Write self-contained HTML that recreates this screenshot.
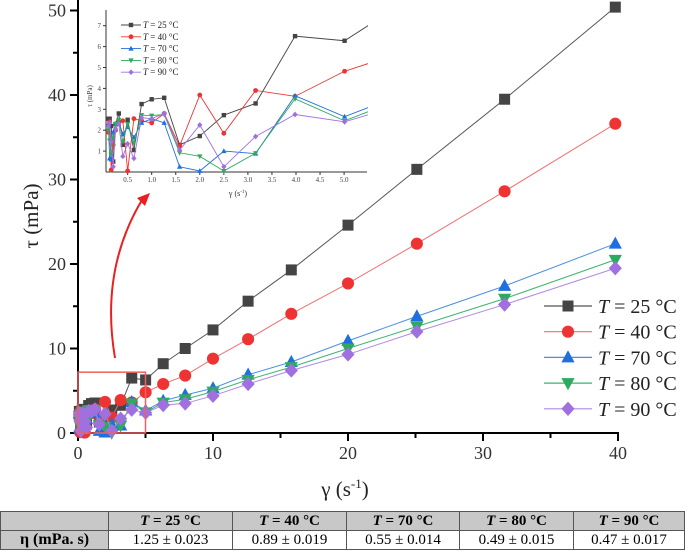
<!DOCTYPE html>
<html><head><meta charset="utf-8"><style>
body{margin:0;background:#fff;width:685px;height:551px;overflow:hidden;font-family:"Liberation Serif",serif}
svg{position:absolute;left:0;top:0;font-family:"Liberation Serif",serif}
svg text{font-family:"Liberation Serif",serif}
table{position:absolute;left:0;top:511px;width:685px;border-collapse:collapse;font-family:"Liberation Serif",serif;font-size:15px}
td{border:1px solid #555;height:18px;padding:0;text-align:center}
.g{background:#c8c8c8;font-weight:bold}
</style></head><body>
<svg id="c" width="685" height="511" font-family="Liberation Serif, serif"></svg>
<table>
<tr><td class="g" style="width:107px"></td><td class="g" style="width:123px"><i>T</i> = 25 °C</td><td class="g" style="width:113px"><i>T</i> = 40 °C</td><td class="g" style="width:112px"><i>T</i> = 70 °C</td><td class="g" style="width:113px"><i>T</i> = 80 °C</td><td class="g"><i>T</i> = 90 °C</td></tr>
<tr><td class="g" style="font-size:16px">η (mPa. s)</td><td>1.25 ± 0.023</td><td>0.89 ± 0.019</td><td>0.55 ± 0.014</td><td>0.49 ± 0.015</td><td>0.47 ± 0.017</td></tr>
</table>
<script>
const shearRates=[0.1,0.126,0.158,0.2,0.25,0.316,0.4,0.5,0.63,0.79,1,1.26,1.58,2,2.5,3.16,3.98,5.01,6.31,7.94,10,12.6,15.8,20,25.1,31.6,39.8];
const tau25=[2.55,2.55,2.2,0.5,2.3,2.8,1.3,2.5,1.05,3.25,3.48,3.55,1.3,1.72,2.72,3.28,6.5,6.28,8.2,10,12.2,15.6,19.3,24.6,31.2,39.5,50.4];
const tau40=[1.9,2.4,0.1,1.3,2.0,2.4,2.45,0.05,2.55,2.45,2.35,2.8,1.25,3.68,1.85,3.9,3.62,4.82,5.8,6.8,8.8,11.1,14.1,17.7,22.4,28.6,36.6];
const tau70=[2.3,0.65,0.6,1.9,2.3,2.4,1.8,2.15,1.65,2.35,2.55,2.35,0.25,0.05,1.0,0.88,3.65,2.65,3.8,4.5,5.3,6.9,8.4,10.9,13.8,17.4,22.4];
const tau80=[2.0,1.5,0.85,1.6,2.3,2.5,1.45,2.3,1.4,2.72,2.7,2.75,0.92,0.75,0.05,0.9,3.5,2.45,3.6,4.0,4.9,6.3,7.8,10.0,12.6,15.9,20.5];
const tau90=[2.2,2.35,1.45,0.25,2.05,2.3,0.75,1.35,0.65,2.6,2.55,2.8,1.05,2.25,0.25,1.7,2.75,2.4,3.3,3.5,4.4,5.8,7.4,9.3,12.0,15.2,19.5];
const seriesLabels=["25","40","70","80","90"];
const xTicks=[0,10,20,30,40];
const yTicks=[0,10,20,30,40,50];
const insetXTicks=[0.5,1.0,1.5,2.0,2.5,3.0,3.5,4.0,4.5,5.0];
const insetYTicks=[1,2,3,4,5,6,7];

const S=document.getElementById('c');const NS='http://www.w3.org/2000/svg';
function el(t,a,p){const e=document.createElementNS(NS,t);for(const k in a)e.setAttribute(k,a[k]);if(t==='text')e.setAttribute('font-family','Liberation Serif, serif');(p||S).appendChild(e);return e;}
const X=v=>78+v*13.5, Y=v=>433-v*8.45;
const IX=v=>106+(v-0.05)*48.1, IY=v=>172-v*20.9;
const series=[tau25,tau40,tau70,tau80,tau90];
const lineC=['#555','#f07070','#4a90e2','#3cb371','#b08ae0'];
const markC=['#444','#ee3333','#1f6fe0','#2eaa60','#a070e0'];
function marker(g,type,x,y,s,c){
 if(type===0)return el('rect',{x:x-s,y:y-s,width:2*s,height:2*s,fill:c},g);
 if(type===1)return el('circle',{cx:x,cy:y,r:s*1.1,fill:c},g);
 if(type===2)return el('polygon',{points:`${x},${y-s*1.3} ${x+s*1.2},${y+s*0.9} ${x-s*1.2},${y+s*0.9}`,fill:c},g);
 if(type===3)return el('polygon',{points:`${x},${y+s*1.3} ${x+s*1.2},${y-s*0.9} ${x-s*1.2},${y-s*0.9}`,fill:c},g);
 return el('polygon',{points:`${x},${y-s*1.3} ${x+s*1.2},${y} ${x},${y+s*1.3} ${x-s*1.2},${y}`,fill:c},g);
}
el('line',{x1:78,y1:0,x2:78,y2:433,stroke:'#000','stroke-width':2});
el('line',{x1:78,y1:433,x2:619,y2:433,stroke:'#000','stroke-width':2});
yTicks.forEach(v=>{el('line',{x1:70,y1:Y(v),x2:78,y2:Y(v),stroke:'#000','stroke-width':2});
 const t=el('text',{x:66,y:Y(v)+6,'text-anchor':'end','font-size':18,fill:'#333'});t.textContent=v;
 if(v<50)el('line',{x1:73,y1:Y(v+5),x2:78,y2:Y(v+5),stroke:'#000','stroke-width':2});});
xTicks.forEach(v=>{el('line',{x1:X(v),y1:433,x2:X(v),y2:441,stroke:'#000','stroke-width':2});
 const t=el('text',{x:X(v),y:459,'text-anchor':'middle','font-size':18,fill:'#333'});t.textContent=v;
 if(v<40)el('line',{x1:X(v+5),y1:433,x2:X(v+5),y2:438,stroke:'#000','stroke-width':2});});
let t=el('text',{x:0,y:0,transform:'translate(38,216) rotate(-90)','text-anchor':'middle','font-size':21,fill:'#222'});t.textContent='τ (mPa)';
t=el('text',{x:345,y:496,'text-anchor':'middle','font-size':21,fill:'#222'});t.innerHTML='γ (s<tspan font-size="13" dy="-8">-1</tspan><tspan dy="8">)</tspan>';
series.forEach((d,i)=>{const g=el('g',{});
 el('polyline',{points:d.map((v,j)=>X(shearRates[j])+','+Y(v)).join(' '),fill:'none',stroke:lineC[i],'stroke-width':1},g);
 d.forEach((v,j)=>marker(g,i,X(shearRates[j]),Y(v),5.5,markC[i]));});
el('rect',{x:X(0),y:Y(7.2),width:X(5)-X(0),height:Y(0)-Y(7.2),fill:'none',stroke:'#f06060','stroke-width':1.5});
el('path',{d:'M115,358 Q100,270 142,200',fill:'none',stroke:'#e82020','stroke-width':2});
el('polygon',{points:'150,193 137,198 145,206',fill:'#e82020'});
series.forEach((d,i)=>{const y=306+i*25.7;const g=el('g',{});
 el('line',{x1:544,y1:y,x2:592,y2:y,stroke:lineC[i],'stroke-width':1.2},g);marker(g,i,568,y,5.5,markC[i]);
 const tt=el('text',{x:598,y:y+7,'font-size':20,fill:'#222'},g);tt.innerHTML='<tspan font-style="italic">T</tspan> = '+seriesLabels[i]+' °C';});
const ig=el('g',{});
el('rect',{x:106,y:8,width:262,height:164,fill:'#fff'},ig);
el('line',{x1:106,y1:10,x2:106,y2:172,stroke:'#333','stroke-width':1},ig);
el('line',{x1:106,y1:172,x2:367,y2:172,stroke:'#333','stroke-width':1},ig);
insetYTicks.forEach(v=>{el('line',{x1:103,y1:IY(v),x2:106,y2:IY(v),stroke:'#333'},ig);const q=el('text',{x:101,y:IY(v)+2.5,'text-anchor':'end','font-size':7,fill:'#444'},ig);q.textContent=v;});
insetXTicks.forEach(v=>{el('line',{x1:IX(v),y1:172,x2:IX(v),y2:175,stroke:'#333'},ig);const q=el('text',{x:IX(v),y:182,'text-anchor':'middle','font-size':7,fill:'#444'},ig);q.textContent=v.toFixed(1);});
t=el('text',{x:0,y:0,transform:'translate(92,96) rotate(-90)','text-anchor':'middle','font-size':7,fill:'#333'},ig);t.textContent='τ (mPa)';
t=el('text',{x:238,y:196,'text-anchor':'middle','font-size':8,fill:'#333'},ig);t.innerHTML='γ (s<tspan font-size="5" dy="-3">-1</tspan><tspan dy="3">)</tspan>';
const cp=el('clipPath',{id:'ic'});el('rect',{x:106,y:8,width:262,height:166},cp);
const ic=el('g',{'clip-path':'url(#ic)'},ig);
series.forEach((d,i)=>{const g=el('g',{},ic);
 const n=19;el('polyline',{points:d.slice(0,n).map((v,j)=>IX(shearRates[j])+','+IY(v)).join(' '),fill:'none',stroke:markC[i],'stroke-width':0.9},g);
 d.slice(0,n).forEach((v,j)=>marker(g,i,IX(shearRates[j]),IY(v),2.2,markC[i]));});
series.forEach((d,i)=>{const y=25+i*11.8;const g=el('g',{},ig);
 el('line',{x1:121,y1:y,x2:141,y2:y,stroke:markC[i],'stroke-width':0.9},g);marker(g,i,131,y,2.2,markC[i]);
 const q=el('text',{x:143,y:y+3,'font-size':9,fill:'#222'},g);q.innerHTML='<tspan font-style="italic">T</tspan> = '+seriesLabels[i]+' °C';});
</script>
</body></html>
